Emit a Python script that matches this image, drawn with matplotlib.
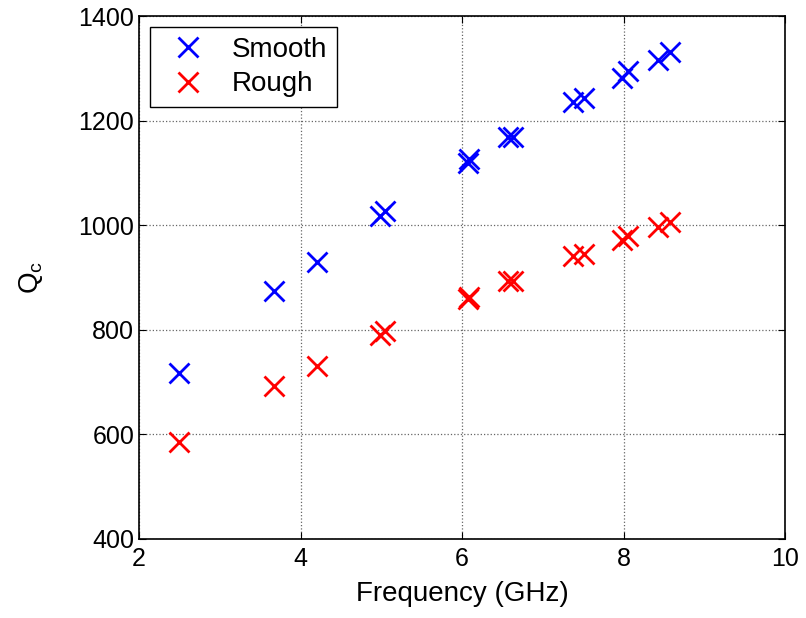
import matplotlib.pyplot as plt

plt.rcParams['font.family'] = ['Liberation Sans', 'DejaVu Sans']

# frequencies (GHz) and Qc values
freq = [2.49, 3.67, 4.21, 4.99, 5.05, 6.07, 6.09, 6.57, 6.63,
        7.38, 7.51, 7.98, 8.06, 8.43, 8.58]
q_smooth = [718, 874, 930, 1017, 1027, 1119, 1126, 1168, 1168,
            1236, 1244, 1281, 1295, 1316, 1331]
q_rough = [585, 692, 730, 790, 798, 858, 863, 893, 893,
           941, 945, 971, 980, 997, 1006]

fig = plt.figure(figsize=(8.06, 6.18), dpi=100)
ax = fig.add_axes([0.1725, 0.128, 0.8015, 0.846])

ax.plot(freq, q_smooth, 'x', color='#0000ff', ms=14, mew=2, label='Smooth')
ax.plot(freq, q_rough, 'x', color='#ff0000', ms=14, mew=2, label='Rough')

ax.set_xlim(2, 10)
ax.set_ylim(400, 1400)
ax.set_xticks([2, 4, 6, 8, 10])
ax.set_yticks([400, 600, 800, 1000, 1200, 1400])
ax.grid(True, linestyle=':', color='#666666', linewidth=0.9)
ax.tick_params(direction='in', top=True, right=True, labelsize=18, length=5)
ax.tick_params(axis='x', pad=6)
for s in ax.spines.values():
    s.set_linewidth(1.2)

ax.set_xlabel('Frequency (GHz)', fontsize=20, labelpad=7)
ax.set_ylabel('Q$_\\mathregular{c}$', fontsize=20, labelpad=24)

leg = ax.legend(loc='upper left', fontsize=20, fancybox=False, framealpha=1,
                edgecolor='black', borderaxespad=0.4, handletextpad=0.6,
                borderpad=0.35, labelspacing=0.3)
leg.get_frame().set_linewidth(1.0)

fig.savefig('out.png', dpi=100)
